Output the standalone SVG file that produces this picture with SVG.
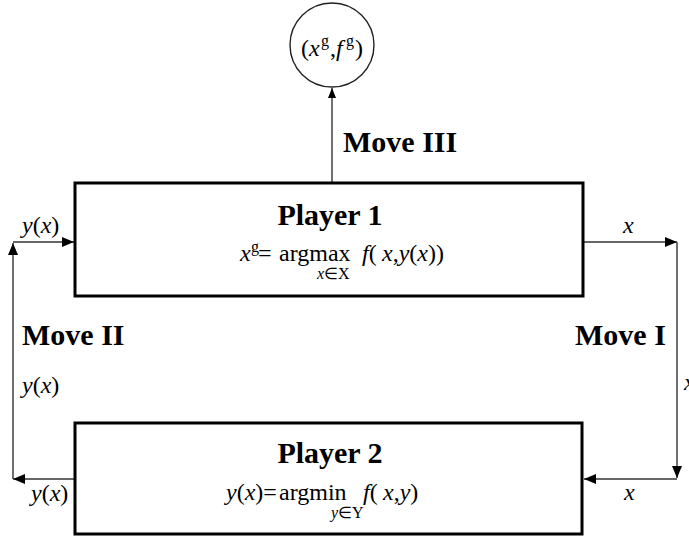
<svg xmlns="http://www.w3.org/2000/svg" width="689" height="538" viewBox="0 0 689 538">
<defs>
<marker id="ah" markerWidth="12" markerHeight="10" refX="12" refY="5" orient="auto" markerUnits="userSpaceOnUse">
<path d="M0,0 L12,5 L0,10 z" fill="#000"/>
</marker>
<marker id="ahs" markerWidth="10" markerHeight="8" refX="10" refY="4" orient="auto" markerUnits="userSpaceOnUse">
<path d="M0,0 L10,4 L0,8 z" fill="#000"/>
</marker>
<style>
text{font-family:"Liberation Serif","Times New Roman",serif;fill:#000}
.b{font-weight:bold}
.t{font-size:30px}
.m{font-size:24px}
.s{font-size:16px}
.i{font-style:italic}
.box{fill:#fff;stroke:#000;stroke-width:3}
.c{fill:none;stroke:#333;stroke-width:1.4}
</style>
</defs>
<rect width="689" height="538" fill="#fff"/>

<g id="connectors">
<path class="c" d="M332,183 L332,88" marker-end="url(#ahs)"/>
<path class="c" d="M583,242 L677,242" marker-end="url(#ah)"/>
<path class="c" d="M677,242 L677,478" marker-end="url(#ah)"/>
<path class="c" d="M677,479 L584,479" marker-end="url(#ah)"/>
<path class="c" d="M75,479 L13,479" marker-end="url(#ah)"/>
<path class="c" d="M13,479 L13,243" marker-end="url(#ah)"/>
<path class="c" d="M13,242 L74,242" marker-end="url(#ah)"/>
<text class="t b" x="343" y="152">Move III</text>
<text class="t b" x="22" y="345">Move II</text>
<text class="t b" x="575" y="345">Move I</text>
<text class="m" x="22" y="233"><tspan class="i">y</tspan>(<tspan class="i">x</tspan>)</text>
<text class="m" x="22" y="393"><tspan class="i">y</tspan>(<tspan class="i">x</tspan>)</text>
<text class="m" x="31" y="501"><tspan class="i">y</tspan>(<tspan class="i">x</tspan>)</text>
<text class="m i" x="623" y="233">x</text>
<text class="m i" x="624" y="500">x</text>
<text class="m i" x="684" y="390">x</text>
</g>

<g id="goal">
<circle cx="332" cy="45" r="42" fill="#fff" stroke="#222" stroke-width="1.4"/>
<text class="m" x="301" y="56" font-size="26">(<tspan class="i">x</tspan></text>
<text class="s" x="321" y="46">g</text>
<text class="m" x="330" y="56" font-size="26">,<tspan class="i">f</tspan></text>
<text class="s" x="346" y="46">g</text>
<text class="m" x="355" y="56" font-size="26">)</text>
</g>

<g id="player1">
<rect class="box" x="75" y="183" width="508" height="113"/>
<text class="t b" x="330" y="225" text-anchor="middle">Player 1</text>
<text class="m i" x="240" y="261">x</text>
<text class="s" x="251" y="252">g</text>
<text class="m" x="258" y="261">=</text>
<text class="m" x="279" y="261">argmax</text>
<text class="m" x="362" y="261"><tspan class="i">f</tspan>(</text>
<text class="m" x="382" y="261"><tspan class="i">x</tspan>,<tspan class="i">y</tspan>(<tspan class="i">x</tspan>))</text>
<text class="s" x="317" y="279"><tspan class="i">x</tspan>∈X</text>
</g>

<g id="player2">
<rect class="box" x="75" y="423" width="507" height="111"/>
<text class="t b" x="330" y="463" text-anchor="middle">Player 2</text>
<text class="m" x="226" y="500"><tspan class="i">y</tspan>(<tspan class="i">x</tspan>)=</text>
<text class="m" x="279" y="500">argmin</text>
<text class="m" x="363" y="500"><tspan class="i">f</tspan>(</text>
<text class="m" x="383" y="500"><tspan class="i">x</tspan>,<tspan class="i">y</tspan>)</text>
<text class="s" x="331" y="518"><tspan class="i">y</tspan>∈Y</text>
</g>
</svg>
